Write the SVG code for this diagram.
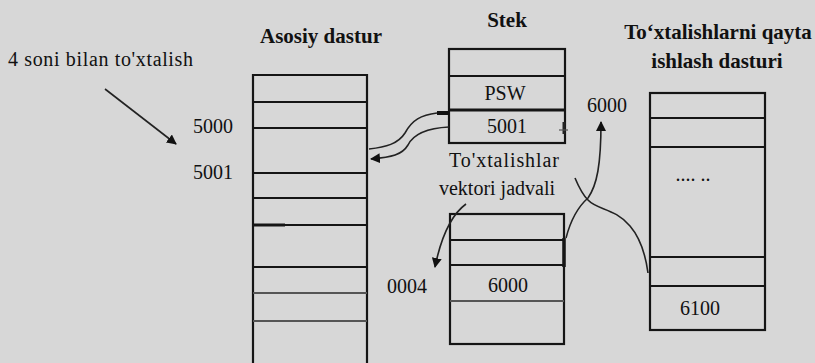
<svg xmlns="http://www.w3.org/2000/svg" width="815" height="363" viewBox="0 0 815 363">
<defs>
<style>
text{font-family:'Liberation Serif','Tinos','DejaVu Serif','Noto Serif',serif}
.t{font-size:20px;fill:#111}
.b{font-size:21px;font-weight:bold;fill:#111}
.box{fill:none;stroke:#151515;stroke-width:2.2}
.row{stroke:#151515;stroke-width:2.2}
.lt{stroke:#555;stroke-width:2}
.c{fill:none;stroke:#222;stroke-width:1.6}
</style>
<marker id="ahb" viewBox="0 0 10 10" refX="9" refY="5" markerWidth="10" markerHeight="10" markerUnits="userSpaceOnUse" orient="auto">
<path d="M0,0 L10,5 L0,10 z" fill="#111"/>
</marker>
</defs>
<rect width="815" height="363" fill="#d7d7d7"/>

<g id="label-interrupt">
<text class="t" x="8" y="66" textLength="185" lengthAdjust="spacing">4 soni bilan to'xtalish</text>
<text class="t" x="193" y="133">5000</text>
<text class="t" x="193" y="179">5001</text>
</g>

<g id="main-program">
<text class="b" x="321" y="43" text-anchor="middle">Asosiy dastur</text>
<path class="box" d="M253,363 L253,75 L367,75 L367,363"/>
<line class="row" x1="253" y1="102" x2="367" y2="102"/>
<line class="row" x1="253" y1="128" x2="367" y2="128"/>
<line class="row" x1="253" y1="173" x2="367" y2="173"/>
<line class="row" x1="253" y1="198" x2="367" y2="198"/>
<line class="row" x1="253" y1="225" x2="367" y2="225"/>
<line x1="253" y1="225" x2="285" y2="225" stroke="#151515" stroke-width="3"/>
<line class="row" x1="253" y1="267" x2="367" y2="267"/>
<line class="lt" x1="253" y1="293" x2="367" y2="293"/>
<line class="lt" x1="253" y1="321" x2="367" y2="321"/>
</g>

<g id="stack">
<text class="b" x="507" y="27" text-anchor="middle">Stek</text>
<rect class="box" x="449" y="49" width="116" height="94"/>
<line class="row" x1="449" y1="76" x2="565" y2="76"/>
<line x1="449" y1="110" x2="565" y2="110" stroke="#151515" stroke-width="3"/>
<text class="t" x="505" y="100" text-anchor="middle">PSW</text>
<text class="t" x="507" y="133" text-anchor="middle">5001</text>
<line x1="564" y1="122" x2="564" y2="134" stroke="#222" stroke-width="3"/>
<line x1="559" y1="130" x2="568" y2="130" stroke="#555" stroke-width="1.2"/>
</g>

<g id="vector-table">
<text class="t" x="449" y="167" textLength="110" lengthAdjust="spacing">To'xtalishlar</text>
<text class="t" x="497" y="195" text-anchor="middle">vektori jadvali</text>
<rect class="box" x="450" y="214" width="114" height="130"/>
<line class="row" x1="450" y1="240" x2="564" y2="240"/>
<line class="row" x1="450" y1="265" x2="564" y2="265"/>
<line class="lt" x1="450" y1="301" x2="564" y2="301"/>
<line x1="564" y1="238" x2="564" y2="267" stroke="#151515" stroke-width="3.5"/>
<text class="t" x="508" y="292" text-anchor="middle" fill="#333">6000</text>
<text class="t" x="387" y="293">0004</text>
</g>

<g id="handler-program">
<text class="b" x="718" y="39" text-anchor="middle">To‘xtalishlarni qayta</text>
<text class="b" x="717" y="68" text-anchor="middle">ishlash dasturi</text>
<rect class="box" x="650" y="93" width="115" height="237"/>
<line class="row" x1="650" y1="118" x2="765" y2="118"/>
<line class="row" x1="650" y1="147" x2="765" y2="147"/>
<line class="row" x1="650" y1="257" x2="765" y2="257"/>
<line class="row" x1="650" y1="286" x2="765" y2="286"/>
<text class="t" x="693" y="181" text-anchor="middle" font-size="11">.... ..</text>
<text class="t" x="700" y="315" text-anchor="middle">6100</text>
<text class="t" x="587" y="112">6000</text>
</g>

<g id="connectors">
<line class="c" x1="105" y1="89" x2="176" y2="144" stroke-width="2" marker-end="url(#ahb)"/>
<line x1="437" y1="113" x2="449" y2="113" stroke="#111" stroke-width="4"/>
<path class="c" d="M437,113 C421,115 412,120 405,133 C398,144 386,147 369,149"/>
<path class="c" d="M449,127 C428,128 414,133 408,145 C402,155 392,157 371,159" marker-end="url(#ahb)"/>
<path class="c" d="M466,204 C455,212 443,228 435,267" marker-end="url(#ahb)"/>
<path class="c" d="M566,238 C572,215 580,205 588,198 C597,185 601,165 601,122" marker-end="url(#ahb)"/>
<path class="c" d="M575,178 C580,190 584,196 588,200 C597,210 615,208 630,226 C642,240 646,258 648,273"/>
</g>
</svg>
